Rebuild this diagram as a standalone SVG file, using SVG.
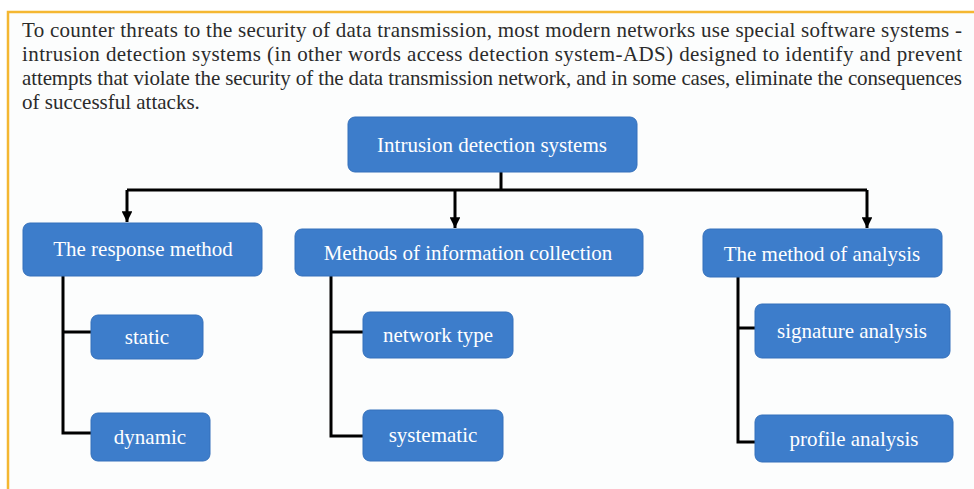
<svg xmlns="http://www.w3.org/2000/svg" width="974" height="489" viewBox="0 0 974 489">
<defs>
<style>
.para{font-family:"Liberation Serif","Times New Roman",serif;font-size:21px;fill:#2b2b2b;}
.box{fill:#3d7dcb;stroke:#3470bb;stroke-width:1;}
.lbl{font-family:"Liberation Serif","Times New Roman",serif;font-size:21px;fill:#ffffff;text-anchor:middle;dominant-baseline:central;}
.ln{fill:none;stroke:#000;stroke-width:3;}
</style>
<marker id="arr" viewBox="0 0 10 10" refX="10" refY="5" markerWidth="3.6" markerHeight="3.6" orient="auto" markerUnits="strokeWidth">
<path d="M0,0 L10,5 L0,10 z" fill="#000"/>
</marker>
</defs>
<rect x="0" y="0" width="974" height="489" fill="#ffffff"/>
<rect x="8" y="12" width="966" height="477" fill="#fcfdfd"/>
<path d="M8,489 V12 H974" fill="none" stroke="#f4b731" stroke-width="2.5"/>
<g id="intro">
<text class="para" x="22" y="37" textLength="940" lengthAdjust="spacing">To counter threats to the security of data transmission, most modern networks use special software systems -</text>
<text class="para" x="22" y="61" textLength="940" lengthAdjust="spacing">intrusion detection systems (in other words access detection system-ADS) designed to identify and prevent</text>
<text class="para" x="22" y="85" textLength="940" lengthAdjust="spacing">attempts that violate the security of the data transmission network, and in some cases, eliminate the consequences</text>
<text class="para" x="22" y="109">of successful attacks.</text>
</g>
<g id="connectors">
<path class="ln" d="M501,172 V190 M127,190 H867"/>
<path class="ln" d="M127,190 V222" marker-end="url(#arr)"/>
<path class="ln" d="M455,190 V228" marker-end="url(#arr)"/>
<path class="ln" d="M867,190 V228" marker-end="url(#arr)"/>
<path class="ln" d="M63,276 V433 H91 M63,332 H91"/>
<path class="ln" d="M331,276 V436 H363 M331,332 H363"/>
<path class="ln" d="M738,277 V442 H755 M738,328 H755"/>
</g>
<g id="root"><rect class="box" x="348" y="117" width="289" height="55" rx="7"/><text class="lbl" x="492" y="145">Intrusion detection systems</text></g>
<g id="response"><rect class="box" x="23" y="223" width="239" height="53" rx="7"/><text class="lbl" x="143" y="249">The response method</text></g>
<g id="collection"><rect class="box" x="295" y="229" width="348" height="47" rx="7"/><text class="lbl" x="468" y="253">Methods of information collection</text></g>
<g id="analysis"><rect class="box" x="703" y="229" width="239" height="48" rx="7"/><text class="lbl" x="822" y="254">The method of analysis</text></g>
<g id="static"><rect class="box" x="91" y="315" width="112" height="44" rx="7"/><text class="lbl" x="147" y="337">static</text></g>
<g id="dynamic"><rect class="box" x="91" y="413" width="119" height="48" rx="7"/><text class="lbl" x="150" y="437">dynamic</text></g>
<g id="networktype"><rect class="box" x="363" y="312" width="150" height="46" rx="7"/><text class="lbl" x="438" y="335">network type</text></g>
<g id="systematic"><rect class="box" x="363" y="410" width="140" height="51" rx="7"/><text class="lbl" x="433" y="435">systematic</text></g>
<g id="signature"><rect class="box" x="755" y="304" width="195" height="54" rx="7"/><text class="lbl" x="852" y="331">signature analysis</text></g>
<g id="profile"><rect class="box" x="755" y="415" width="198" height="47" rx="7"/><text class="lbl" x="854" y="439">profile analysis</text></g>
</svg>
